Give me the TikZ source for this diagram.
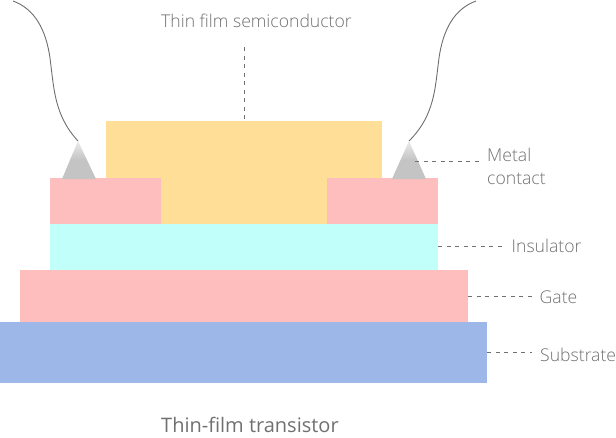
\documentclass[tikz,border=0pt]{standalone}
\usepackage{fontspec}
\setmainfont{Open Sans Light}
\newfontfamily\titlefont{Open Sans}
\usetikzlibrary{calc}
\definecolor{pinklayer}{HTML}{FFBEBE}
\definecolor{semi}{HTML}{FFDF97}
\definecolor{insul}{HTML}{C1FFFA}
\definecolor{subst}{HTML}{9CB7E8}
\definecolor{wire}{HTML}{6E6E6E}
\definecolor{labelgray}{HTML}{707070}
\tikzset{
  x=1pt,y=-1pt,
  layer/.style={inner sep=0pt,outer sep=0pt,minimum width=#1,anchor=north west},
  lbl/.style={text=labelgray,font=\fontsize{17.6}{23}\selectfont,inner sep=0pt,anchor=base west},
  leader/.style={draw=labelgray,line width=0.7pt,dash pattern=on 4pt off 4.5pt},
  probe/.style={draw=wire,line width=0.9pt},
  tip/.style={top color=black!8,bottom color=black!23,middle color=black!23,shading angle=0}
}
\begin{document}
\begin{tikzpicture}
\useasboundingbox (0,0) rectangle (616,437);
% layer stack, bottom to top
\node[layer=276pt,minimum height=103pt,fill=semi] (film) at (106,121) {};
\node[layer=111pt,minimum height=46pt,fill=pinklayer] (padl) at (50,178) {};
\node[layer=111pt,minimum height=46pt,fill=pinklayer] (padr) at (327,178) {};
\node[layer=388pt,minimum height=46pt,fill=insul] (ins) at (50,224) {};
\node[layer=448pt,minimum height=52pt,fill=pinklayer] (gate) at (20,270) {};
\node[layer=487pt,minimum height=61pt,fill=subst] (sub) at (0,322) {};
% contact tips
\shade[tip] (78,141) -- (96,179) -- (62,179) -- cycle;
\shade[tip] (409,141) -- (426,179) -- (392,179) -- cycle;
\coordinate (tipl) at (78,141);
\coordinate (tipr) at (409,141);
\coordinate (wirel) at (13,1);
\coordinate (wirer) at (476,1);
\draw[probe] (wirel) .. controls (35,9) and (46,30) .. (50,58)
  .. controls (54,88) and (54,115) .. (tipl);
\draw[probe] (wirer) .. controls (454,9) and (443,30) .. (439,58)
  .. controls (435,88) and (435,115) .. (tipr);
% labels
\node[lbl] (tfs) at (161,27) {Thin film semiconductor};
\node[lbl] (metal1) at (487,161) {Metal};
\node[lbl] (metal2) at (487,184) {contact};
\node[lbl] (insl) at (511.5,252.5) {Insulator};
\node[lbl] (gatel) at (539.5,303.5) {Gate};
\node[lbl] (subl) at (540,361) {Substrate};
\node[lbl,font=\titlefont\fontsize{20}{24}\selectfont] (title) at (161,432) {Thin-film transistor};
% leader lines
\coordinate (tfsend) at (244,47);
\coordinate (mc) at (415,161);
\coordinate (mcend) at (480,161);
\draw[leader] (tfsend) -- (film.north -| tfsend);
\draw[leader] (mc) -- (mcend);
\draw[leader] (ins.east) ++(0,-1) -- ++(64,0);
\draw[leader] (gate.east) -- ++(64,0);
\draw[leader] (sub.east) ++(0,-0.5) -- ++(45,0);
\end{tikzpicture}
\end{document}
